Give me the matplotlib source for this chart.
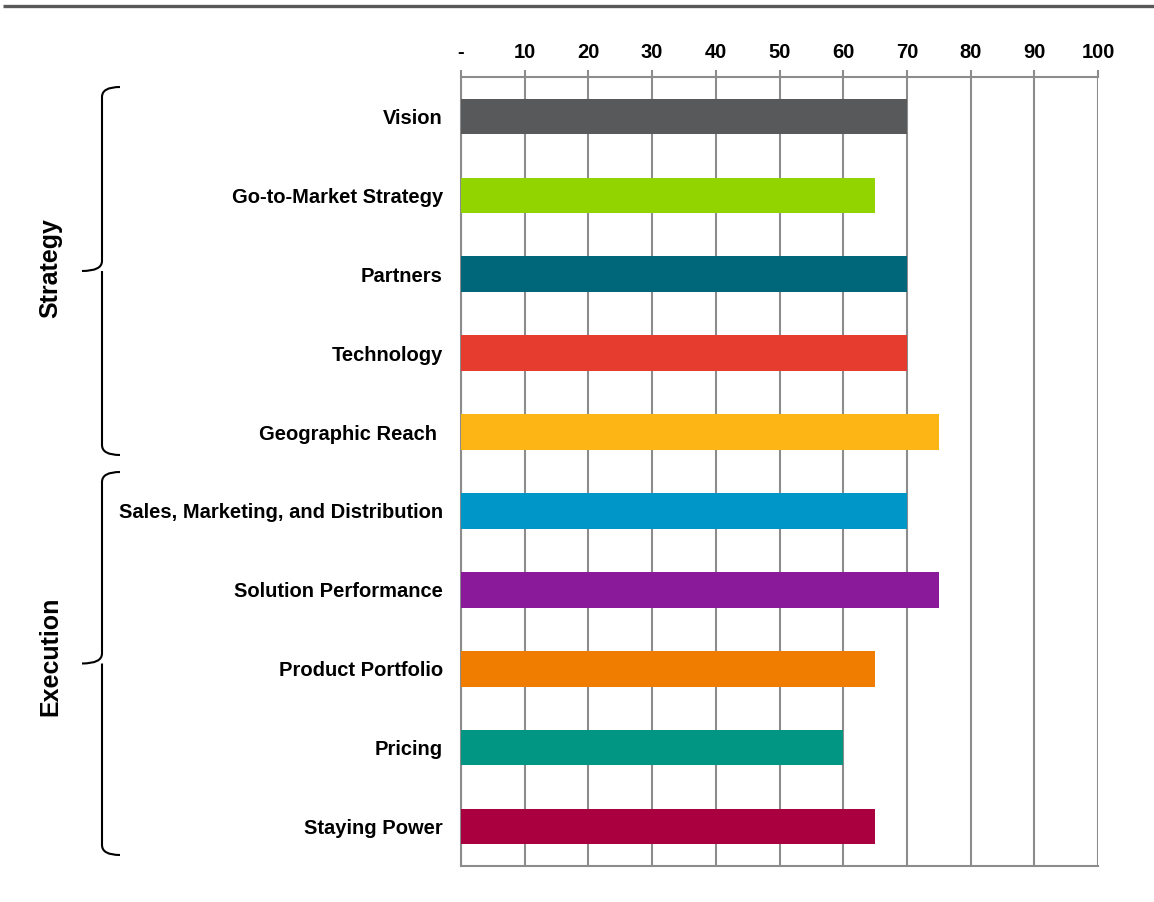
import matplotlib
matplotlib.use('Agg')
import matplotlib.pyplot as plt
from matplotlib.path import Path
from matplotlib.patches import PathPatch
import numpy as np

plt.rcParams['font.family'] = ['Liberation Sans', 'DejaVu Sans']

categories = ['Vision', 'Go-to-Market Strategy', 'Partners', 'Technology',
              'Geographic Reach ', 'Sales, Marketing, and Distribution',
              'Solution Performance', 'Product Portfolio', 'Pricing', 'Staying Power']
scores = [70, 65, 70, 70, 75, 70, 75, 65, 60, 65]
colors = ['#58595B', '#92D400', '#00667A', '#E63C2F', '#FDB515',
          '#0096C8', '#8B1A9A', '#F07D00', '#009683', '#AB003F']
ticks = [0, 10, 20, 30, 40, 50, 60, 70, 80, 90, 100]
tick_labels = ['-'] + [str(t) for t in ticks[1:]]
groups = ['Strategy', 'Execution']

W, H = 1154, 902
fig = plt.figure(figsize=(W / 100, H / 100), dpi=100)

# main bar axes (pixel box 461..1098 x, 77..866 y)
ax = fig.add_axes([461 / W, 1 - 866 / H, (1098 - 461) / W, (866 - 77) / H])
y = np.arange(len(categories))
ax.barh(y, scores, height=0.45, color=colors, zorder=3)
ax.set_ylim(len(categories) - 0.5, -0.5)
ax.set_xlim(0, 100)
ax.set_xticks(ticks)
ax.set_xticklabels(tick_labels, fontsize=14.5, fontweight='bold')
ax.xaxis.tick_top()
ax.tick_params(axis='x', length=5, width=1.5, color='#8C8C8C', pad=6)
ax.set_yticks(y)
ax.set_yticklabels(categories, fontsize=14.5, fontweight='bold')
ax.tick_params(axis='y', length=0, pad=13)
ax.grid(axis='x', color='#8C8C8C', linewidth=1.5, zorder=0)
for s in ax.spines.values():
    s.set_color('#8C8C8C')
    s.set_linewidth(1.5)
ax.spines['right'].set_visible(False)

# overlay for braces and top rule, in pixel coordinates
ov = fig.add_axes([0, 0, 1, 1], facecolor='none')
ov.set_xlim(0, W)
ov.set_ylim(H, 0)
ov.axis('off')
ov.plot([3, W], [5.5, 5.5], color='#595959', linewidth=2.4, solid_capstyle='butt')


def brace(x, top, bot, r=10, arm=18, tip=20):
    mid = (top + bot) / 2
    verts = [(x + arm, top), (x, top), (x, top + r),
             (x, mid - r), (x, mid), (x - tip, mid),
             (x, mid), (x, mid + r),
             (x, bot - r), (x, bot), (x + arm, bot)]
    codes = [Path.MOVETO, Path.CURVE3, Path.CURVE3,
             Path.LINETO, Path.CURVE3, Path.CURVE3,
             Path.MOVETO, Path.CURVE3,
             Path.LINETO, Path.CURVE3, Path.CURVE3]
    ov.add_patch(PathPatch(Path(verts, codes), fill=False, edgecolor='black', linewidth=1.5))


brace(102, 87, 455)
brace(102, 472, 855)
ov.text(50, 268, groups[0], rotation=90, ha='center', va='center', fontsize=18, fontweight='bold')
ov.text(50, 656, groups[1], rotation=90, ha='center', va='center', fontsize=18, fontweight='bold')

fig.savefig('out.png', dpi=100)
